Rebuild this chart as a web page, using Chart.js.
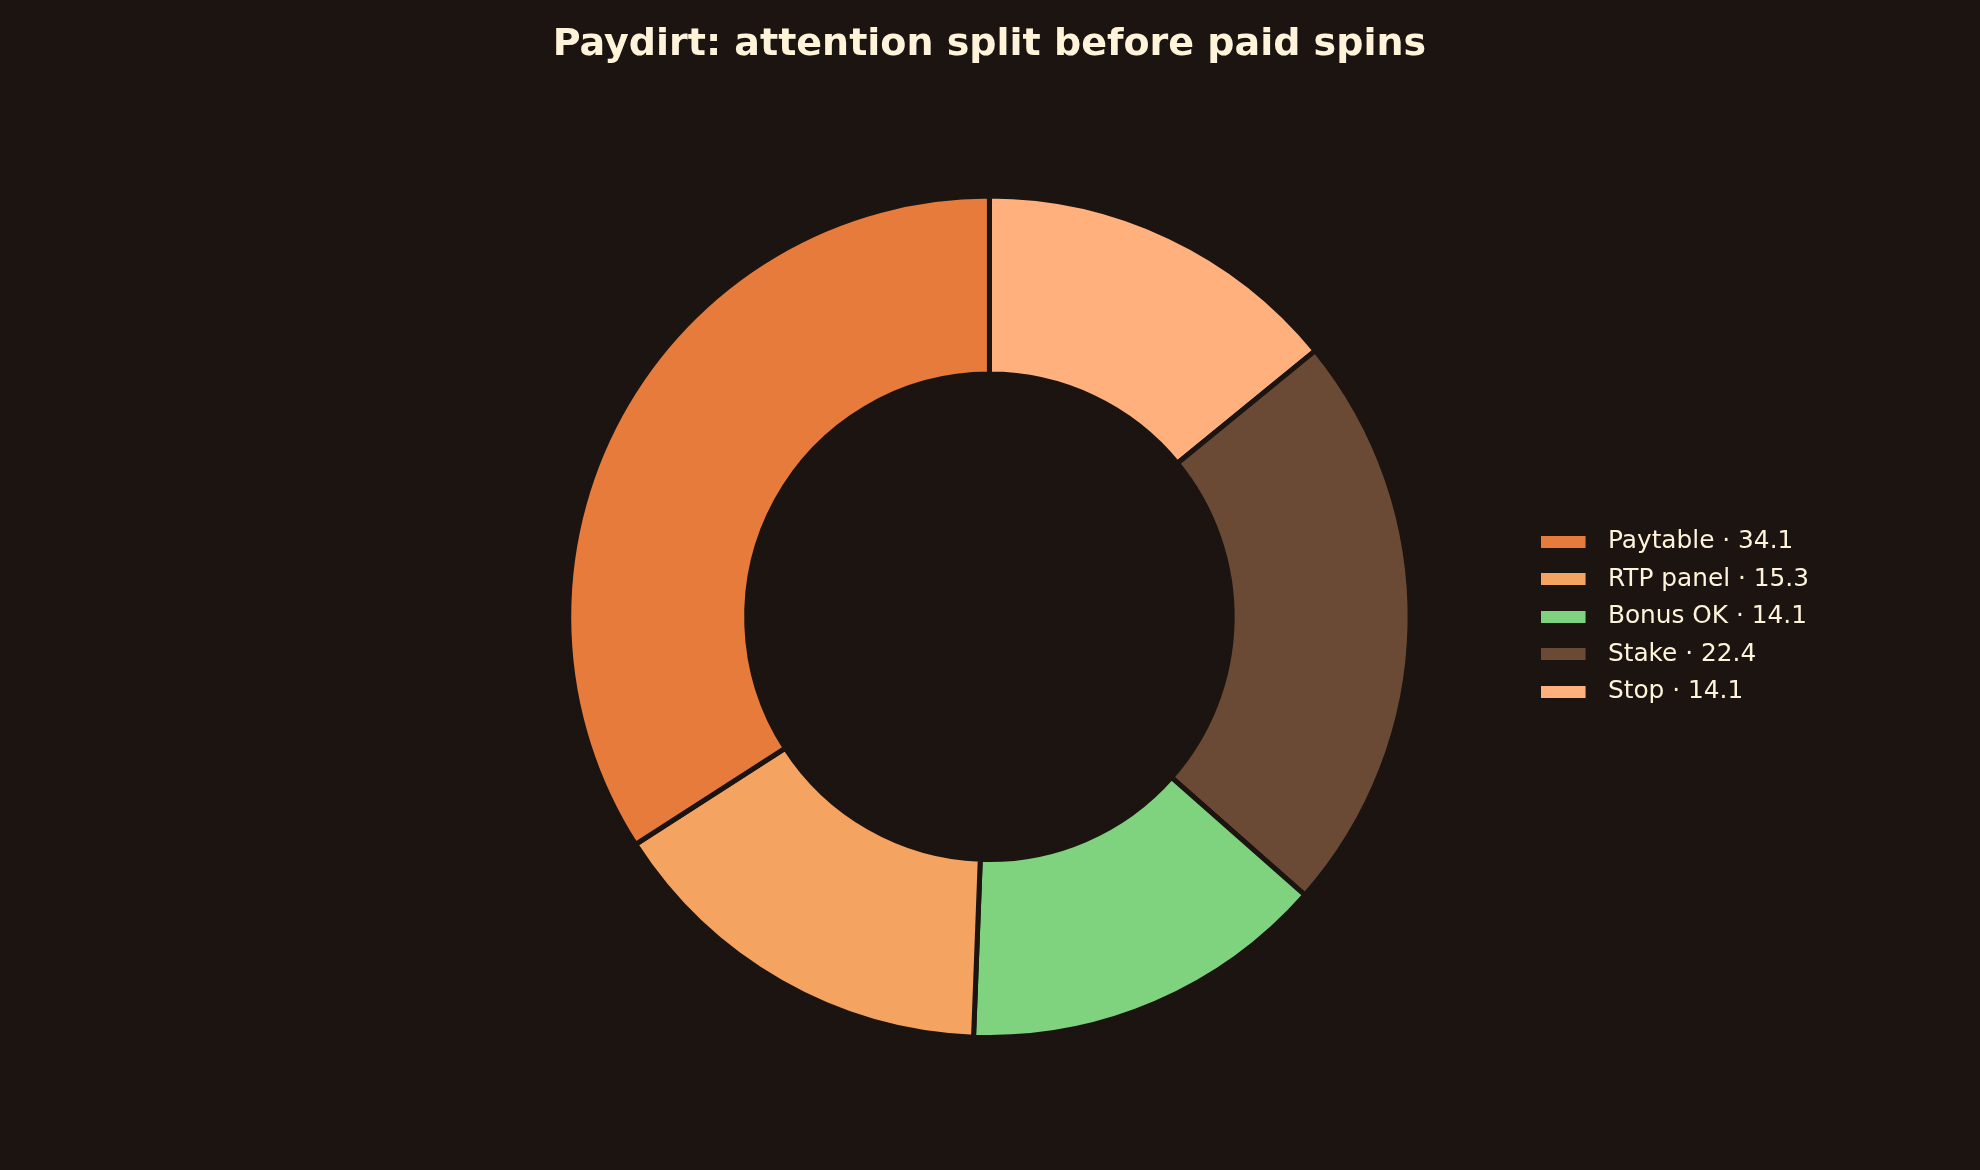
<!DOCTYPE html>
<html>
<head>
<meta charset="utf-8">
<script src="https://cdn.jsdelivr.net/npm/chart.js@4.4.1/dist/chart.umd.min.js"></script>
<style>
html,body{margin:0;padding:0;background:#1c1411;}
#wrap{width:1980px;height:1170px;position:relative;}
</style>
</head>
<body>
<div id="wrap"><canvas id="c"></canvas></div>
<script>
// ---- data (legend order) ----
const categories = ['Paytable', 'RTP panel', 'Bonus OK', 'Stake', 'Stop'];
const shares = [34.1, 15.3, 14.1, 22.4, 14.1];
const sliceColors = ['#e77b3b', '#f4a460', '#7fd37f', '#6b4a35', '#ffb07c'];
const titleText = 'Paydirt: attention split before paid spins';

const bg = '#1c1411';
const ink = '#fff4da';

// The reference lays slices out counter-clockwise from 12 o'clock;
// Chart.js goes clockwise, so feed the arrays reversed and reverse the legend back.
const drawLabels = categories.slice().reverse();
const drawValues = shares.slice().reverse();
const drawColors = sliceColors.slice().reverse();

// legend swatch: 45x12 colour patch followed by a small transparent gap
function swatch(color) {
  const c = document.createElement('canvas');
  c.width = 55; c.height = 12;
  const g = c.getContext('2d');
  g.fillStyle = color;
  g.fillRect(0, 0, 45, 12);
  return c;
}

Chart.defaults.font.family = "'DejaVu Sans', sans-serif";

new Chart(document.getElementById('c'), {
  type: 'doughnut',
  data: {
    labels: drawLabels,
    datasets: [{
      data: drawValues,
      backgroundColor: drawColors,
      borderColor: bg,
      borderWidth: 5,
      hoverOffset: 0
    }]
  },
  options: {
    responsive: true,
    maintainAspectRatio: false,
    devicePixelRatio: 1,
    animation: false,
    cutout: '57.7%',
    rotation: 0,
    layout: { padding: { left: 451, right: 161, top: 0, bottom: 130 } },
    plugins: {
      title: {
        display: true,
        text: titleText,
        color: ink,
        fullSize: false,
        font: { family: "'DejaVu Sans', sans-serif", size: 38, weight: 'bold' },
        padding: { top: 22, bottom: 126 }
      },
      legend: {
        position: 'right',
        fullSize: false,
        align: 'center',
        reverse: true,
        labels: {
          usePointStyle: true,
          pointStyleWidth: 55,
          boxHeight: 12,
          padding: 12.7,
          color: ink,
          font: { family: "'DejaVu Sans', sans-serif", size: 24.8 },
          generateLabels(chart) {
            const ds = chart.data.datasets[0];
            return chart.data.labels.map((l, i) => ({
              text: l + ' \u00b7 ' + ds.data[i].toFixed(1),
              fillStyle: ds.backgroundColor[i],
              strokeStyle: ds.backgroundColor[i],
              lineWidth: 0,
              pointStyle: swatch(ds.backgroundColor[i]),
              fontColor: ink,
              hidden: false,
              index: i
            }));
          }
        }
      },
      tooltip: { enabled: false }
    }
  }
});
</script>
</body>
</html>
